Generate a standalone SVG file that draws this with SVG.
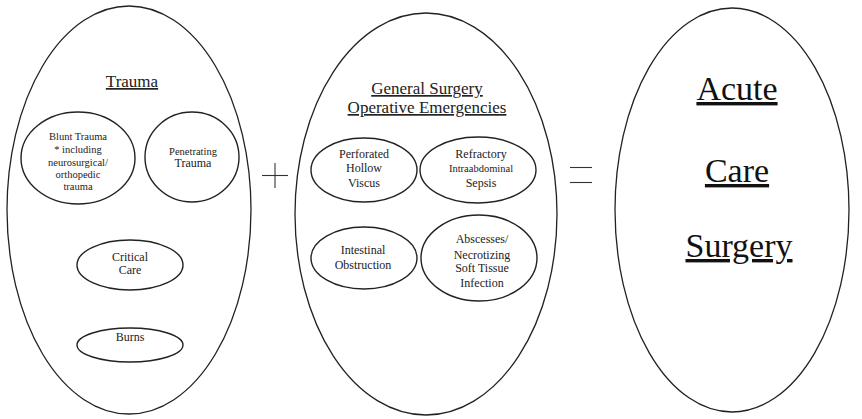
<svg xmlns="http://www.w3.org/2000/svg" width="862" height="419" viewBox="0 0 862 419">
<style>
.big{fill:#fff;stroke:#222;stroke-width:1.3}
.sm{fill:none;stroke:#222;stroke-width:1.4}
text{font-family:"Liberation Serif","Times New Roman",serif;fill:#222;text-anchor:middle}
.t{font-size:12px}
.ts{font-size:10.5px}
.h{font-size:17px;text-decoration:underline}
.H{font-size:34px;text-decoration:underline;fill:#111}
.op{stroke:#333;stroke-width:1.1;fill:none}
</style>
<rect width="862" height="419" fill="#fff"/>
<g id="trauma">
<ellipse class="big" cx="129" cy="210" rx="122" ry="204"/>
<text class="h" x="132" y="87">Trauma</text>
</g>
<g id="blunt">
<ellipse class="sm" cx="78" cy="158" rx="57" ry="46"/>
<text class="ts" x="78" y="140">Blunt Trauma</text>
<text class="ts" x="78" y="153">* including</text>
<text class="ts" x="78" y="166">neurosurgical/</text>
<text class="ts" x="78" y="178">orthopedic</text>
<text class="ts" x="78" y="190">trauma</text>
</g>
<g id="penetrating">
<ellipse class="sm" cx="192" cy="157" rx="47" ry="45"/>
<text class="ts" x="193" y="155">Penetrating</text>
<text class="t" x="193" y="167">Trauma</text>
</g>
<g id="critical">
<ellipse class="sm" cx="130" cy="265" rx="53" ry="25"/>
<text class="t" x="130" y="261">Critical</text>
<text class="t" x="130" y="274">Care</text>
</g>
<g id="burns">
<ellipse class="sm" cx="130" cy="345" rx="53" ry="17"/>
<text class="t" x="130" y="341">Burns</text>
</g>
<g id="plus">
<line class="op" x1="262" y1="175.5" x2="288" y2="175.5"/>
<line class="op" x1="275" y1="163" x2="275" y2="188"/>
</g>
<g id="gensurg">
<ellipse class="big" cx="426" cy="214" rx="131" ry="201"/>
<text class="h" x="427" y="94">General Surgery</text>
<text class="h" x="427" y="113">Operative Emergencies</text>
</g>
<g id="perforated">
<ellipse class="sm" cx="364" cy="170" rx="53" ry="32"/>
<text class="t" x="364" y="158">Perforated</text>
<text class="t" x="364" y="172">Hollow</text>
<text class="t" x="364" y="187">Viscus</text>
</g>
<g id="refractory">
<ellipse class="sm" cx="478" cy="170" rx="58" ry="33"/>
<text class="t" x="481" y="158">Refractory</text>
<text class="ts" x="481" y="172">Intraabdominal</text>
<text class="t" x="481" y="187">Sepsis</text>
</g>
<g id="intestinal">
<ellipse class="sm" cx="364" cy="258" rx="53" ry="31"/>
<text class="t" x="363" y="254">Intestinal</text>
<text class="t" x="363" y="269">Obstruction</text>
</g>
<g id="abscesses">
<ellipse class="sm" cx="479" cy="258" rx="58" ry="43"/>
<text class="t" x="482" y="243">Abscesses/</text>
<text class="t" x="482" y="259">Necrotizing</text>
<text class="t" x="482" y="272">Soft Tissue</text>
<text class="t" x="482" y="287">Infection</text>
</g>
<g id="equals">
<line class="op" x1="570" y1="167.5" x2="592" y2="167.5"/>
<line class="op" x1="570" y1="182.5" x2="592" y2="182.5"/>
</g>
<g id="acs">
<ellipse class="big" cx="732" cy="210" rx="117" ry="202"/>
<text class="H" x="737" y="100">Acute</text>
<text class="H" x="737" y="182">Care</text>
<text class="H" x="739" y="257">Surgery</text>
</g>
<g id="connectors"/>
</svg>
